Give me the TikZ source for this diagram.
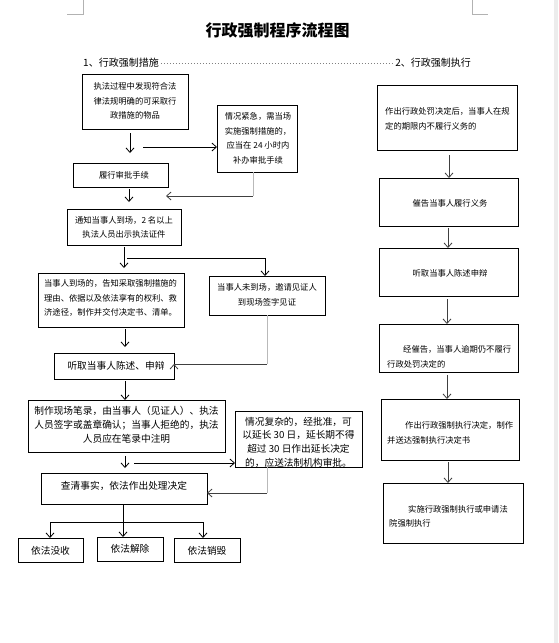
\documentclass[tikz,border=0pt]{standalone}
\usepackage{fontspec}
\setmainfont{Noto Sans CJK SC}
\usetikzlibrary{arrows.meta,calc}
\newcommand\mybox[5]{\node[box, minimum width={#4-#2}, minimum height={#5-#3}] (#1) at ({(#2+#4)/2},{(#3+#5)/2}) {};}
\begin{document}
\begin{tikzpicture}[x=1pt,y=-1pt,
  box/.style={draw, line width=0.9pt, inner sep=0pt, outer sep=0pt},
  sm/.style={font=\fontsize{8.3}{14.5}\selectfont, inner sep=0pt, align=center},
  md/.style={font=\fontsize{9.7}{14}\selectfont, inner sep=0pt, align=center},
  arr/.style={line width=0.8pt, -{Straight Barb[length=4.5pt,width=8pt]}},
  garr/.style={line width=0.8pt, black!75, -{Straight Barb[length=4.5pt,width=8pt]}},
  gline/.style={line width=0.8pt, gray!55}
]
\useasboundingbox (0,0) rectangle (558,643);
\fill[white] (0,0) rectangle (558,643);
\fill[gray!15] (554,0) rectangle (558,643);
% corner marks
\draw[gray!60, line width=0.6pt] (67,14) -- (83,14) -- (83,0);
\draw[gray!60, line width=0.6pt] (472,0) -- (472,14) -- (488,14);
% title and headers
\node[font=\fontsize{16}{18}\selectfont\bfseries, inner sep=0pt] (title) at (277.5,30) {行政强制程序流程图};
\node[font=\fontsize{10}{12}\selectfont, anchor=west, inner sep=0pt] (h1) at (83,63) {1、行政强制措施};
\node[font=\fontsize{10}{12}\selectfont, anchor=east, inner sep=0pt] (h2) at (471,63) {2、行政强制执行};
\draw[gray, line width=0.7pt, dash pattern=on 0.8pt off 2.2pt, shorten <=2pt, shorten >=2pt] (h1.east) -- (h2.west);

% ---------- left column boxes ----------
\mybox{b1}{82}{74}{188}{129}
\node[sm] (b1t) at (135,101) {执法过程中发现符合法\\律法规明确的可采取行\\政措施的物品};
\mybox{b2}{217}{105}{297}{172}
\node[sm] (b2t) at (258,138.5) {情况紧急，需当场\\实施强制措施的，\\应当在 24 小时内\\补办审批手续};
\mybox{b3}{73}{163}{168}{187}
\node[sm] (b3t) at (124,175) {履行审批手续};
\mybox{b4}{67}{209}{181}{245}
\node[sm] (b4t) at (124,227.5) {通知当事人到场，2 名以上\\执法人员出示执法证件};
\mybox{b5}{38}{273}{184}{327}
\node[sm, anchor=west, align=left] (b5t) at (44,298) {当事人到场的，告知采取强制措施的\\理由、依据以及依法享有的权利、救\\济途径，制作并交付决定书、清单。};
\mybox{b6}{209}{276}{325}{315}
\node[sm] (b6t) at (267,295) {当事人未到场，邀请见证人\\到现场签字见证};
\mybox{b7}{54}{353}{174}{379}
\node[md] (b7t) at (116,366) {听取当事人陈述、申辩};
\mybox{b8}{28}{400}{225}{452}
\node[md] (b8t) at (126.5,425) {制作现场笔录，由当事人（见证人）、执法\\人员签字或盖章确认；当事人拒绝的，执法\\人员应在笔录中注明};
\mybox{b9}{235}{411}{362}{467}
\node[md, font=\fontsize{9.7}{13.7}\selectfont] (b9t) at (298.5,442) {情况复杂的，经批准，可\\以延长 30 日，延长期不得\\超过 30 日作出延长决定\\的，应送法制机构审批。};
\mybox{b10}{41}{473}{207}{504}
\node[md] (b10t) at (124,486) {查清事实，依法作出处理决定};
\mybox{b11}{18}{538}{83}{562}
\node[md] (b11t) at (50.5,550.5) {依法没收};
\mybox{b12}{97}{537}{163}{561}
\node[md] (b12t) at (130,549) {依法解除};
\mybox{b13}{174}{538}{240}{562}
\node[md] (b13t) at (207,550.5) {依法销毁};

% ---------- right column boxes ----------
\mybox{r1}{377}{85}{517}{150}
\node[sm, anchor=west, align=left] (r1t) at (385,119) {作出行政处罚决定后，当事人在规\\定的期限内不履行义务的};
\mybox{r2}{379}{178}{518}{226}
\node[sm] (r2t) at (450,203) {催告当事人履行义务};
\mybox{r3}{379}{248}{518}{296}
\node[sm] (r3t) at (450,273) {听取当事人陈述申辩};
\mybox{r4}{379}{324}{518}{372}
\node[sm, anchor=west, align=left] (r4t) at (387,357) {\hspace*{16pt}经催告，当事人逾期仍不履行\\行政处罚决定的};
\mybox{r5}{381}{399}{519}{460}
\node[sm, anchor=west, align=left] (r5t) at (387,433) {\hspace*{18pt}作出行政强制执行决定，制作\\并送达强制执行决定书};
\mybox{r6}{383}{483}{523}{543}
\node[sm, anchor=west, align=left] (r6t) at (389,516.5) {\hspace*{19pt}实施行政强制执行或申请法\\院强制执行};

% ---------- left column connectors ----------
\coordinate (a1s) at (130,133); \coordinate (a1e) at (130,153);
\draw[arr] (a1s) -- (a1e);
\coordinate (a2s) at (143,147);
\draw[arr] (a2s) -- (b2.west |- a2s) ;
\coordinate (a3c) at (253,196); \coordinate (a3e) at (166,196);
\draw[gline] (b2.south -| a3c) -- (a3c);
\draw[garr] (a3c) -- (a3e);
\coordinate (a4s) at (129,189); \coordinate (a4e) at (129,202);
\draw[arr] (a4s) -- (a4e);
\coordinate (a5s) at (124,247); \coordinate (a5e) at (124,268);
\draw[arr] (a5s) -- (a5e);
\coordinate (a5h) at (127,258);
\draw[arr] (a5h) -| (b6.north -| 265,0);
\coordinate (a6c) at (267,364);
\draw[gline] (b6.south -| a6c) -- (a6c);
\draw[garr] (a6c) -- (b7.east |- a6c) ++(0,0);
\coordinate (a7s) at (125,329); \coordinate (a7e) at (125,347);
\draw[arr] (a7s) -- (a7e);
\coordinate (a8s) at (125,381);
\draw[arr] (a8s) -- (b8.north -| a8s);
\coordinate (a9s) at (125,456); \coordinate (a9e) at (125,468);
\draw[arr] (a9s) -- (a9e);
\coordinate (a10s) at (134,463);
\draw[arr] (a10s) -- (b9.west |- a10s);
\coordinate (a11c) at (267,493);
\draw[gline] (b9.south -| a11c) -- (a11c);
\draw[garr] (a11c) -- (b10.east |- a11c);
\coordinate (br) at (123,522);
\draw[line width=0.8pt] (b10.south -| br) -- (br);
\draw[line width=0.8pt] (50,522) -- (203,522);
\draw[arr] (50,522) -- (b11.north -| 50,0);
\draw[arr] (br) -- (b12.north -| br);
\draw[arr] (203,522) -- (b13.north -| 203,0);

% ---------- right column connectors ----------
\draw[garr] (449,155) -- (r2.north -| 449,0);
\draw[garr] (448,228) -- (r3.north -| 448,0);
\draw[garr] (447,299) -- (r4.north -| 447,0);
\draw[garr] (447,375) -- (r5.north -| 447,0);
\draw[garr] (448,462) -- (r6.north -| 448,0);
\end{tikzpicture}
\end{document}
